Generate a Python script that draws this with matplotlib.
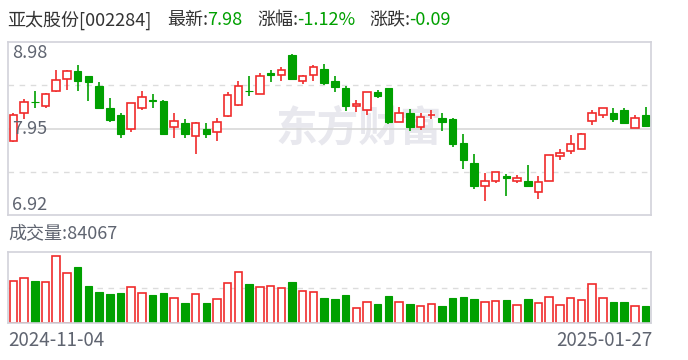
import matplotlib
matplotlib.use("Agg")
import matplotlib.pyplot as plt
import numpy as np

plt.rcParams['font.family'] = ['Noto Sans CJK SC', 'DejaVu Sans']

# daily k-line data, 2024-11-04 .. 2025-01-27
opens = [7.80, 8.13, 8.27, 8.22, 8.40, 8.54, 8.64, 8.57, 8.46, 8.19,
         8.11, 7.95, 8.19, 8.285, 8.28, 7.97, 8.01, 7.86, 7.95, 7.91,
         8.10, 8.23, 8.40, 8.36, 8.61, 8.59, 8.82, 8.52, 8.59, 8.66,
         8.51, 8.43, 8.22, 8.17, 8.39, 8.43, 8.03, 8.14, 7.97, 8.11,
         8.07, 8.06, 7.78, 7.54, 7.27, 7.33, 7.39, 7.32, 7.33, 7.19,
         7.32, 7.62, 7.68, 7.71, 8.04, 8.115, 8.14, 8.17, 7.96, 8.115]
closes = [8.11, 8.27, 8.26, 8.36, 8.53, 8.64, 8.52, 8.50, 8.19, 8.05,
          7.89, 8.25, 8.33, 8.28, 7.89, 8.04, 7.88, 8.01, 7.88, 8.03,
          8.35, 8.46, 8.395, 8.575, 8.585, 8.65, 8.54, 8.58, 8.68, 8.49,
          8.44, 8.22, 8.245, 8.39, 8.335, 8.03, 8.14, 7.97, 8.09, 8.115,
          8.03, 7.76, 7.58, 7.26, 7.325, 7.43, 7.357, 7.36, 7.27, 7.31,
          7.64, 7.655, 7.77, 7.88, 8.13, 8.20, 8.06, 8.02, 8.07, 7.98]
highs = [8.14, 8.30, 8.40, 8.375, 8.65, 8.65, 8.71, 8.58, 8.50, 8.31,
         8.14, 8.245, 8.40, 8.355, 8.285, 8.13, 8.06, 8.025, 8.01, 8.08,
         8.39, 8.51, 8.57, 8.61, 8.65, 8.685, 8.84, 8.59, 8.71, 8.72,
         8.57, 8.46, 8.29, 8.39, 8.41, 8.43, 8.21, 8.18, 8.14, 8.17,
         8.13, 8.07, 7.88, 7.65, 7.42, 7.43, 7.41, 7.40, 7.51, 7.38,
         7.64, 7.71, 7.87, 7.90, 8.17, 8.20, 8.20, 8.20, 8.11, 8.21]
lows = [7.79, 8.06, 8.19, 8.19, 8.39, 8.41, 8.40, 8.28, 8.18, 8.03,
        7.84, 7.91, 8.17, 8.19, 7.89, 7.84, 7.84, 7.65, 7.84, 7.80,
        8.09, 8.22, 8.335, 8.36, 8.50, 8.52, 8.535, 8.48, 8.51, 8.465,
        8.39, 8.16, 8.15, 8.11, 8.31, 8.00, 8.03, 7.92, 7.93, 8.06,
        7.92, 7.73, 7.47, 7.235, 7.085, 7.305, 7.144, 7.30, 7.25, 7.11,
        7.325, 7.57, 7.65, 7.71, 7.99, 8.07, 8.025, 8.015, 7.96, 7.99]
volumes = [204000, 219000, 206000, 201000, 327000, 245000, 274000, 181000, 152000, 143000,
           147000, 175000, 147000, 138000, 147000, 122000, 99000, 141000, 99000, 117000,
           194000, 248000, 191000, 175000, 180000, 170000, 201000, 157000, 152000, 123000,
           118000, 138000, 73000, 104000, 94000, 133000, 104000, 94000, 83000, 92000,
           84000, 123000, 128000, 118000, 104000, 109000, 113000, 87000, 118000, 99000,
           126000, 87000, 123000, 112000, 191000, 122000, 104000, 104000, 83000, 84067]
date_first = "2024-11-04"
date_last = "2025-01-27"

red = '#f02b2b'
green = '#00a000'
frame = '#d2d2da'

x = np.arange(len(opens))
o = np.array(opens)
c = np.array(closes)
up = c >= o
prev = np.concatenate([[o[0]], c[:-1]])
vol_up = c >= prev

fig = plt.figure(figsize=(6.88, 3.6), dpi=100)
ax = fig.add_axes([8/688, 1-215/360, 643/688, 173/360])
axv = fig.add_axes([8/688, 1-323.3/360, 643/688, 71.6/360])

w = 0.7
# wicks
for i in x:
    col = red if up[i] else green
    ax.vlines(i, lows[i], highs[i], color=col, linewidth=1.2, zorder=2)
# bodies
body_h = np.maximum(np.abs(c - o), 0.006)
body_b = np.minimum(o, c)
ax.bar(x[up], body_h[up], w, body_b[up], facecolor='white', edgecolor=red,
       linewidth=1.2, zorder=3)
ax.bar(x[~up], body_h[~up], w, body_b[~up], facecolor=green, edgecolor=green,
       linewidth=0.8, zorder=3)

ax.set_xlim(-0.5, len(x) - 0.5)
ax.set_ylim(6.92, 8.98)
ax.axhline(7.95, color='#d8d8d8', linewidth=1.2, zorder=1)
for g in [8.465, 7.435]:
    ax.axhline(g, color='#dcdcdc', linewidth=1, linestyle=(0, (4, 4)), zorder=1)
ax.set_xticks([])
ax.set_yticks([])
for s in ax.spines.values():
    s.set_color(frame)
    s.set_linewidth(1.2)

lc = '#5f6470'
ax.text(0.006, 0.99, "8.98", transform=ax.transAxes, ha='left', va='top',
        fontsize=13, color=lc, zorder=5)
ax.text(0.006, 0.5, "7.95", transform=ax.transAxes, ha='left', va='center',
        fontsize=13, color=lc, zorder=5)
ax.text(0.006, 0.005, "6.92", transform=ax.transAxes, ha='left', va='bottom',
        fontsize=13, color=lc, zorder=5)

# watermark
ax.text(0.545, 0.5, "东方财富", transform=ax.transAxes, ha='center', va='center',
        fontsize=30, fontweight='bold', color='#e8e8ee', zorder=0)

# volume
vu = vol_up
vol = np.array(volumes)
axv.bar(x[vu], vol[vu], w, facecolor='white', edgecolor=red, linewidth=1.2)
axv.bar(x[~vu], vol[~vu], w, facecolor=green, edgecolor=green, linewidth=0.8)
axv.set_xlim(-0.5, len(x) - 0.5)
axv.set_ylim(0, 348000)
axv.axhline(174000, color='#dcdcdc', linewidth=1, linestyle=(0, (4, 4)), zorder=0)
axv.set_xticks([])
axv.set_yticks([])
for s in axv.spines.values():
    s.set_color(frame)
    s.set_linewidth(1.2)

# header texts
tc = '#333333'
fs = 13
fig.text(7/688, 1-20/360, "亚太股份[002284]", fontsize=fs, color=tc, va='center')
fig.text(167/688, 1-20/360, "最新:", fontsize=fs, color=tc, va='center')
fig.text(207/688, 1-20/360, "7.98", fontsize=fs, color=green, va='center')
fig.text(257/688, 1-20/360, "涨幅:", fontsize=fs, color=tc, va='center')
fig.text(297/688, 1-20/360, "-1.12%", fontsize=fs, color=green, va='center')
fig.text(369/688, 1-20/360, "涨跌:", fontsize=fs, color=tc, va='center')
fig.text(409/688, 1-20/360, "-0.09", fontsize=fs, color=green, va='center')

fig.text(8/688, 1-233/360, "成交量:%d" % volumes[-1], fontsize=fs, color=lc, va='center')
fig.text(8/688, 1-341/360, date_first, fontsize=13.5, color=lc, va='center')
fig.text(652/688, 1-341/360, date_last, fontsize=13.5, color=lc, va='center', ha='right')

fig.savefig("out.png", dpi=100)
